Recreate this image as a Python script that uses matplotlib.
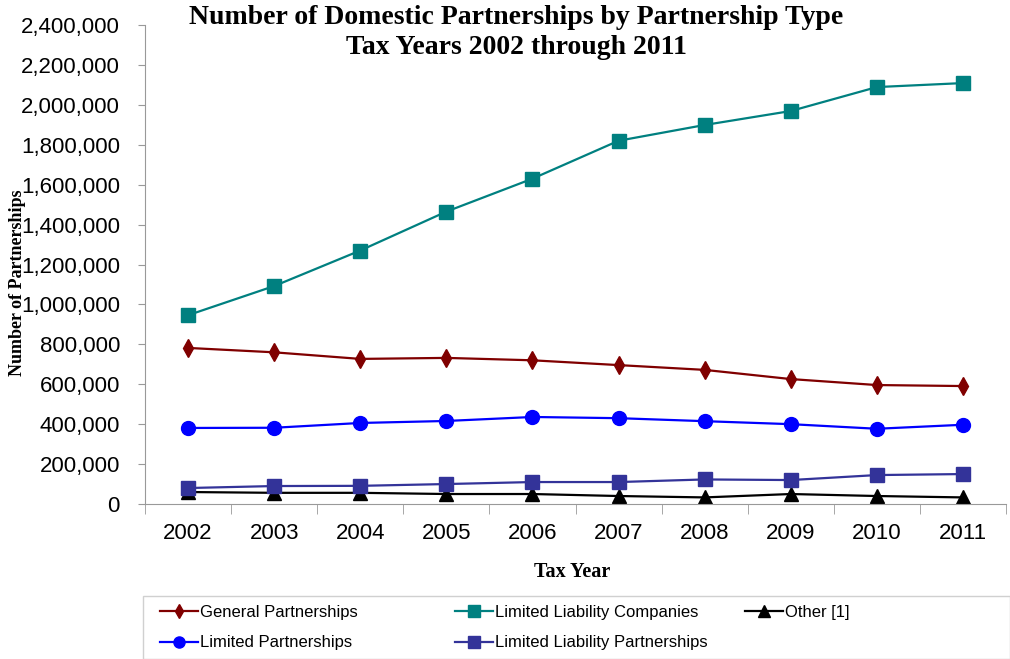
import numpy as np
import matplotlib.pyplot as plt
from matplotlib.patches import Rectangle
from matplotlib.ticker import FuncFormatter, MultipleLocator

# Data
years = ['2002', '2003', '2004', '2005', '2006', '2007', '2008', '2009', '2010', '2011']
general = [782000, 760000, 727000, 732000, 720000, 696000, 672000, 626000, 596000, 591000]
llc = [946000, 1092000, 1270000, 1465000, 1630000, 1820000, 1899000, 1969000, 2089000, 2109000]
other = [60000, 56000, 56000, 50000, 50000, 40000, 33000, 50000, 40000, 33000]
limited = [381000, 382000, 406000, 416000, 436000, 430000, 415000, 400000, 377000, 397000]
llp = [80000, 90000, 91000, 100000, 110000, 110000, 123000, 120000, 145000, 150000]

fig = plt.figure(figsize=(10.1, 6.59), dpi=100)
ax = fig.add_axes([145 / 1010, 1 - 504 / 659, (1006 - 145) / 1010, (504 - 25) / 659])

x = np.arange(len(years))
lw = 1.6
h_gen, = ax.plot(x, general, color='#800000', lw=lw, marker='d', ms=9, label='General Partnerships')
h_llc, = ax.plot(x, llc, color='#008080', lw=lw, marker='s', ms=10, label='Limited Liability Companies')
h_oth, = ax.plot(x, other, color='black', lw=lw, marker='^', ms=10, label='Other [1]')
h_lim, = ax.plot(x, limited, color='#0000FF', lw=lw, marker='o', ms=10, label='Limited Partnerships')
h_llp, = ax.plot(x, llp, color='#333399', lw=lw, marker='s', ms=10, label='Limited Liability Partnerships')

ax.set_xlim(-0.5, len(years) - 0.5)
ax.set_ylim(0, 2400000)
ax.yaxis.set_major_locator(MultipleLocator(200000))
ax.yaxis.set_major_formatter(FuncFormatter(lambda v, p: f'{int(v):,}'))
ax.set_xticks(x)
ax.set_xticklabels(years)
ax.set_xticks(np.arange(-0.5, len(years)), minor=True)
ax.tick_params(axis='x', which='major', length=0, pad=14, labelsize=16)
ax.tick_params(axis='x', which='minor', length=7, color='#999999', direction='out')
ax.tick_params(axis='y', length=5, color='#999999', labelsize=16, pad=13)
for s in ['top', 'right']:
    ax.spines[s].set_visible(False)
for s in ['left', 'bottom']:
    ax.spines[s].set_color('#999999')

for lab in ax.get_xticklabels() + ax.get_yticklabels():
    lab.set_family('Liberation Sans')

fig.text(516 / 1010, 1 - 18 / 659, 'Number of Domestic Partnerships by Partnership Type',
         ha='center', va='center', family='Liberation Serif', weight='bold', fontsize=20)
fig.text(516 / 1010, 1 - 48 / 659, 'Tax Years 2002 through 2011',
         ha='center', va='center', family='Liberation Serif', weight='bold', fontsize=20)
fig.text(18 / 1010, 1 - 283 / 659, 'Number of Partnerships', rotation=90,
         ha='center', va='center', family='Liberation Serif', weight='bold', fontsize=13)
fig.text(572 / 1010, 1 - 572 / 659, 'Tax Year', ha='center', va='center',
         family='Liberation Serif', weight='bold', fontsize=14.5)

# legend frame
fig.patches.append(Rectangle((143 / 1010, 0), 1 - 143 / 1010, 1 - 596 / 659,
                             transform=fig.transFigure, fill=False,
                             edgecolor='#d0d0d0', lw=1))

groups = [([h_gen, h_lim], 153), ([h_llc, h_llp], 448), ([h_oth], 738)]
for hs, xl in groups:
    fig.legend(handles=hs, loc='upper left', bbox_to_anchor=(xl / 1010, 1 - 598 / 659),
               frameon=False, handlelength=2.3, handletextpad=0.1,
               labelspacing=0.95, borderaxespad=0, markerscale=0.8,
               prop={'family': 'Liberation Sans', 'size': 12})

fig.savefig('out.png', dpi=100)
plt.close()
